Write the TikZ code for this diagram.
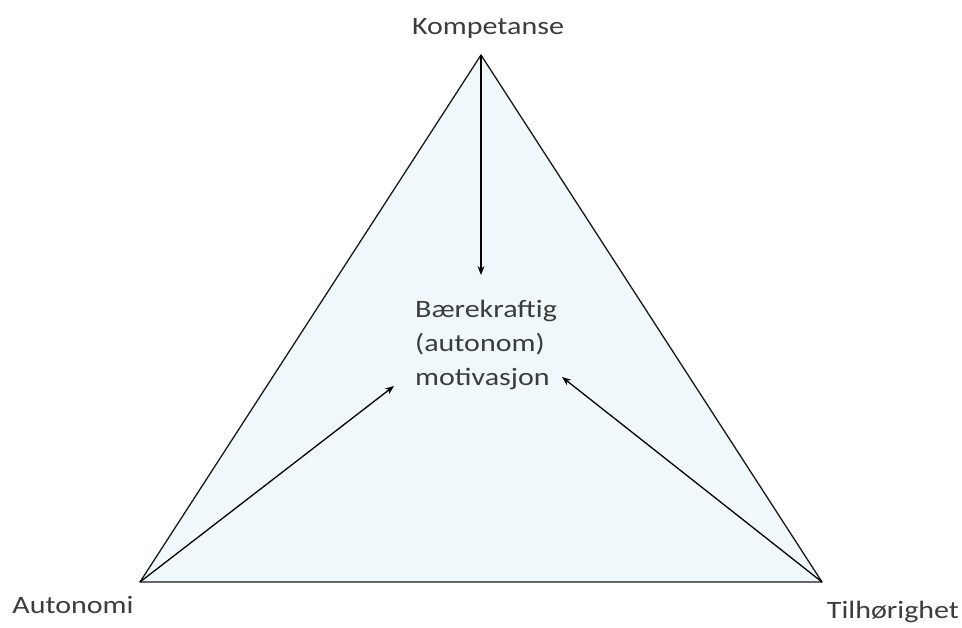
\documentclass[tikz,border=0pt]{standalone}
\usepackage{fontspec}
\setmainfont{Carlito}[FakeStretch=1.2]
\usetikzlibrary{arrows.meta}
\begin{document}
\begin{tikzpicture}[x=1pt, y=-1pt,
    lbl/.style={text=mytext, font=\fontsize{25}{34}\selectfont, inner sep=0pt},
    pil/.style={-{Stealth[length=9pt, width=7pt]}, line width=1.3pt, draw=black}]
    \definecolor{myfill}{RGB}{239,248,251}
    \definecolor{mytext}{RGB}{60,60,60}
    \definecolor{myline}{RGB}{25,25,25}

    \useasboundingbox (0,0) rectangle (962,628);

    \coordinate (K) at (481,55);
    \coordinate (A) at (140,582);
    \coordinate (T) at (822,582);
    \coordinate (kEnd) at (481,275);
    \coordinate (aEnd) at (394,386);
    \coordinate (tEnd) at (562,377);

    \filldraw[fill=myfill, draw=myline, line width=1.3pt, line join=round] (K) -- (A) -- (T) -- cycle;

    \draw[pil] (K) -- (kEnd);
    \draw[pil] (A) -- (aEnd);
    \draw[pil] (T) -- (tEnd);

    \node[lbl, anchor=base] (komp) at (488,35) {Kompetanse};
    \node[lbl, anchor=base] (auto) at (73,613) {Autonomi};
    \node[lbl, anchor=base] (tilh) at (893,618) {Tilhørighet};
    \node[lbl, anchor=base west, align=left] (motiv) at (415,386) {Bærekraftig\\(autonom)\\motivasjon};
\end{tikzpicture}
\end{document}
